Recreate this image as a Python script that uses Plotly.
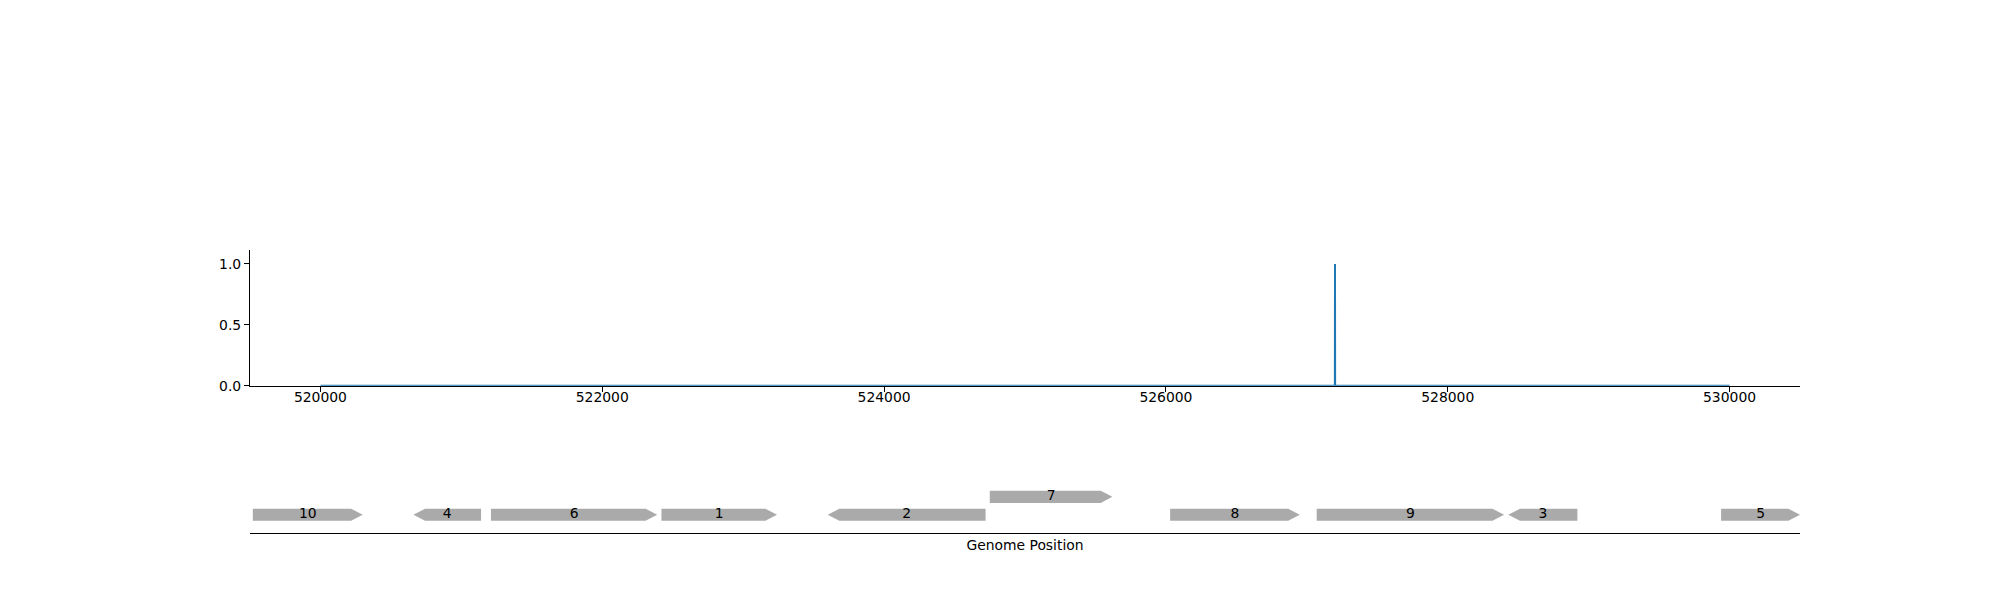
import plotly.graph_objects as go

# ---------------- data ----------------
signal_pos = [520000, 527199, 527200, 527201, 530000]
signal_val = [0.0, 0.0, 1.0, 0.0, 0.0]

gene_labels = ["10", "4", "6", "1", "2", "7", "8", "9", "3", "5"]
gene_start = [519520, 520660, 521210, 522420, 523600, 524750, 526030, 527070, 528430, 529940]
gene_end = [520300, 521140, 522390, 523240, 524720, 525620, 526950, 528400, 528920, 530500]
gene_strand = [1, -1, 1, 1, -1, 1, 1, 1, -1, 1]
gene_level = [0, 0, 0, 0, 0, 1, 0, 0, 0, 0]

x_ticks = [520000, 522000, 524000, 526000, 528000, 530000]
y_ticks = [0.0, 0.5, 1.0]

# ---------------- layout geometry ----------------
W, H = 2000, 600
XR = [519500, 530500]
X_DOM = [250 / W, 1800 / W]
px_per_bp = (1800 - 250) / (XR[1] - XR[0])
DY = 6  # vertical offset in px

FONT = "DejaVu Sans"
FS = 13.9
GRAY = "#aaaaaa"

fig = go.Figure()

# signal line (top panel)
fig.add_trace(go.Scatter(
    x=signal_pos, y=signal_val, mode="lines",
    line=dict(color="#1f77b4", width=2),
    xaxis="x", yaxis="y", showlegend=False, hoverinfo="skip",
))

# gene arrows (bottom panel), y in pixel-like units
base_y = 18.3
level_gap = 18.2
half_h = 6.2
head_len = 11.6 / px_per_bp

for lab, s, e, st, lv in zip(gene_labels, gene_start, gene_end, gene_strand, gene_level):
    yc = base_y + lv * level_gap
    hl = min(head_len, (e - s))
    if st > 0:
        xs = [s, e - hl, e, e - hl, s, s]
        ys = [yc - half_h, yc - half_h, yc, yc + half_h, yc + half_h, yc - half_h]
    else:
        xs = [s, s + hl, e, e, s + hl, s]
        ys = [yc, yc + half_h, yc + half_h, yc - half_h, yc - half_h, yc]
    fig.add_trace(go.Scatter(
        x=xs, y=ys, mode="lines", fill="toself", fillcolor=GRAY,
        line=dict(width=0, color=GRAY),
        xaxis="x2", yaxis="y2", showlegend=False, hoverinfo="skip",
    ))

fig.add_trace(go.Scatter(
    x=[(s + e) / 2 for s, e in zip(gene_start, gene_end)],
    y=[base_y + lv * level_gap for lv in gene_level],
    text=gene_labels, mode="text",
    textfont=dict(family=FONT, size=FS, color="black"),
    textposition="middle center",
    xaxis="x2", yaxis="y2", showlegend=False, hoverinfo="skip",
))

axis_common = dict(showgrid=False, zeroline=False, linecolor="black", linewidth=1.1,
                   tickfont=dict(family=FONT, size=FS, color="black"))

fig.update_layout(
    width=W, height=H, autosize=False,
    margin=dict(l=0, r=0, t=0, b=0),
    paper_bgcolor="white", plot_bgcolor="white",
    font=dict(family=FONT, size=FS, color="black"),
    xaxis=dict(domain=X_DOM, range=XR, anchor="y", showline=True,
               ticks="outside", ticklen=5, tickwidth=1.1, tickcolor="black",
               ticklabelstandoff=-7,
               tickvals=x_ticks, tickformat="d", **axis_common),
    yaxis=dict(domain=[1 - (385 + DY) / H, 1 - (247.5 + DY) / H], range=[0, 1.113], anchor="x",
               showline=True, ticks="outside", ticklen=5, tickwidth=1.1, tickcolor="black",
               tickvals=y_ticks, tickformat=".1f", **axis_common),
    xaxis2=dict(domain=X_DOM, range=XR, anchor="y2", showline=True,
                ticks="", showticklabels=False,
                title=dict(text="Genome Position", font=dict(family=FONT, size=FS, color="black"),
                           standoff=7),
                **axis_common),
    yaxis2=dict(domain=[1 - (534 + DY) / H, 1 - (414 + DY) / H], range=[0, 120], anchor="x2",
                visible=False, showgrid=False, zeroline=False),
)

fig.write_html("out.html", config={"displayModeBar": False},
               post_script="document.body.style.margin='0';document.body.style.overflow='hidden';")
